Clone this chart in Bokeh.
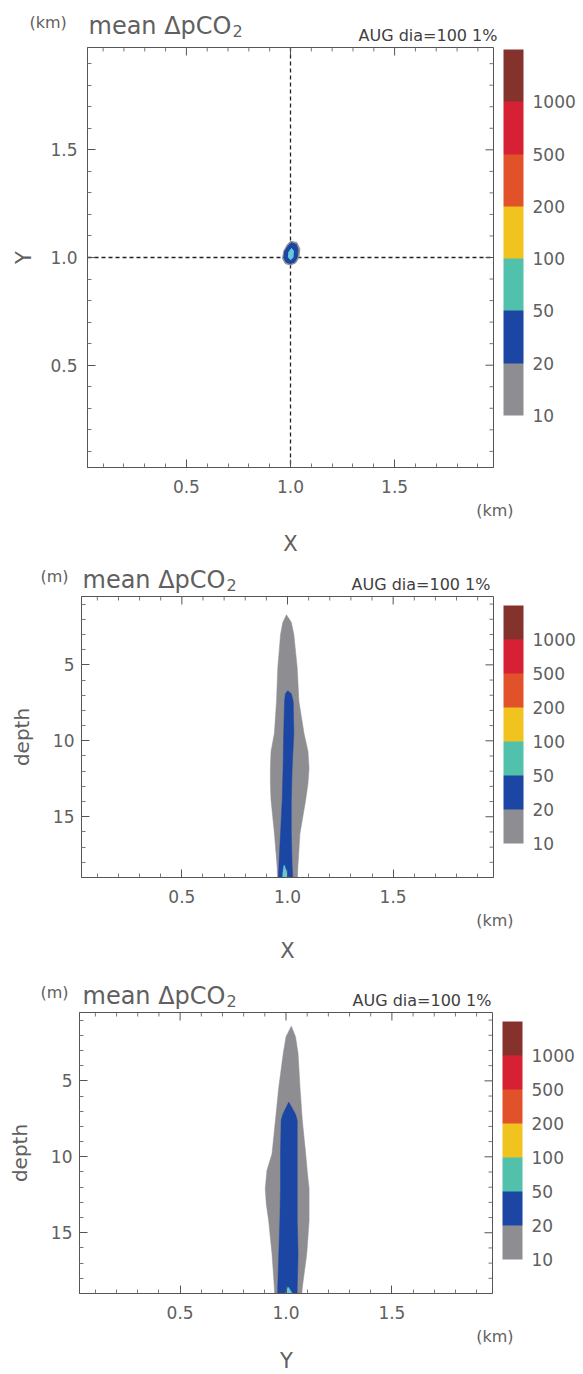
import numpy as np
from bokeh.plotting import figure
from bokeh.models import (Range1d, LinearAxis, FixedTicker, ColorBar, LinearColorMapper, Span)
from bokeh.core.properties import value
from bokeh.layouts import column
from bokeh.embed import file_html
from bokeh.resources import INLINE

# ---------------- data ----------------
level_values = [10, 20, 50, 100, 200, 500, 1000]
level_colors = ["#8e8e92", "#1c46a3", "#52c1ab", "#f1c31f", "#e2522a", "#d62034", "#86322c"]
spot_color = "#66c8dc"   # the small 50-100 patches look light cyan in the print

crosshair_x = 1.0
crosshair_y = 1.0

km_major_ticks = [0.5, 1.0, 1.5]
km_minor_ticks = [0.1, 0.2, 0.3, 0.4, 0.6, 0.7, 0.8, 0.9, 1.1, 1.2, 1.3, 1.4, 1.6, 1.7, 1.8, 1.9]
depth_major_ticks = [5, 10, 15]
depth_minor_ticks = [1, 2, 3, 4, 6, 7, 8, 9, 11, 12, 13, 14, 16, 17, 18]

# XY plan view (km): rings of the 10, 20 and 50 contours
xy_gray_x = [1.00, 1.03, 1.045, 1.04, 1.025, 1.00, 0.975, 0.962, 0.968, 0.985]
xy_gray_y = [1.075, 1.07, 1.04, 1.00, 0.975, 0.965, 0.972, 0.995, 1.03, 1.06]
xy_blue_x = [1.005, 1.028, 1.036, 1.032, 1.018, 0.998, 0.978, 0.968, 0.973, 0.99]
xy_blue_y = [1.068, 1.06, 1.035, 1.00, 0.978, 0.972, 0.98, 1.00, 1.03, 1.055]
xy_cyan_x = [1.005, 1.014, 1.012, 1.00, 0.99, 0.992]
xy_cyan_y = [1.042, 1.03, 1.00, 0.99, 1.00, 1.025]

# X-depth section: edges (km) of each contour at given depths (m)
xz_gray_depth = [1.7, 2.2, 3.0, 5.2, 7.4, 9.5, 10.7, 11.8, 12.8, 13.9, 16.1, 18.3, 19.5]
xz_gray_left = [0.995, 0.978, 0.967, 0.954, 0.948, 0.938, 0.922, 0.919, 0.919, 0.922, 0.938, 0.951, 0.954]
xz_gray_right = [0.995, 1.018, 1.03, 1.046, 1.054, 1.078, 1.097, 1.102, 1.097, 1.086, 1.059, 1.049, 1.046]
xz_blue_depth = [6.7, 6.9, 7.4, 9.5, 11.8, 13.9, 16.1, 18.3, 19.5]
xz_blue_left = [1.001, 0.99, 0.986, 0.982, 0.979, 0.975, 0.967, 0.959, 0.956]
xz_blue_right = [1.001, 1.018, 1.027, 1.03, 1.022, 1.018, 1.018, 1.022, 1.027]
xz_cyan_depth = [18.2, 18.7, 19.5]
xz_cyan_left = [0.983, 0.978, 0.976]
xz_cyan_right = [0.985, 0.998, 1.01]

# Y-depth section
yz_gray_depth = [1.4, 2.1, 3.2, 5.4, 7.6, 9.8, 10.9, 12.1, 13.1, 14.2, 16.4, 18.6, 19.5]
yz_gray_left = [1.025, 1.0, 0.987, 0.966, 0.95, 0.934, 0.91, 0.902, 0.907, 0.918, 0.934, 0.945, 0.947]
yz_gray_right = [1.025, 1.045, 1.057, 1.066, 1.077, 1.093, 1.10, 1.109, 1.109, 1.109, 1.098, 1.077, 1.072]
yz_blue_depth = [6.4, 7.2, 7.6, 9.8, 12.1, 14.2, 16.4, 18.6, 19.5]
yz_blue_left = [1.013, 0.985, 0.977, 0.974, 0.974, 0.971, 0.966, 0.961, 0.96]
yz_blue_right = [1.013, 1.045, 1.053, 1.053, 1.053, 1.053, 1.057, 1.053, 1.052]
yz_cyan_depth = [18.6, 19.0, 19.5]
yz_cyan_left = [1.008, 0.998, 0.995]
yz_cyan_right = [1.012, 1.03, 1.035]

km_range = (0.025, 1.975)
depth_range = (19.0, 0.5)

# ---------------- styling ----------------
FONT = "DejaVu Sans"
TXT = "#606060"
LINE = "#555555"
W = 583
TITLE = "mean ΔpCO"
TITLE_SUB = "2"
TITLE_SIZE = 24
# DejaVu Sans advance width of "mean ΔpCO" in em, used to place the subscript
TITLE_EM = 5.958


def no_align(p):
    try:
        p.frame_align = False
    except Exception:
        pass
    return p


def text_fig(height, items):
    """A strip of page that only holds texts; its frame is the whole strip (pixel coords)."""
    t = figure(width=W, height=height, x_range=Range1d(0, W), y_range=Range1d(height, 0),
               toolbar_location=None, output_backend="svg", x_axis_type=None, y_axis_type=None,
               min_border=0, outline_line_color=None)
    no_align(t)
    t.grid.visible = False
    for (x, y, s, size, align, color) in items:
        t.text(x=[x], y=[y], text=[s], text_font=value(FONT), text_font_size=value(size),
               text_color=color, text_align=align, text_baseline="middle")
    return t


def header(height, unit, ux, uy, tx, ty, ax, ay):
    return text_fig(height, [
        (ux, uy, unit, "16px", "left", TXT),
        (tx, ty, TITLE, f"{TITLE_SIZE}px", "left", TXT),
        (tx + TITLE_EM * TITLE_SIZE + 1, ty + 5, TITLE_SUB, "16px", "left", TXT),
        (ax, ay, "AUG dia=100 1%", "16px", "right", "#404040"),
    ])


def style_axis(ax, std):
    ax.axis_line_color = LINE
    ax.major_tick_in = 8
    ax.major_tick_out = 0
    ax.minor_tick_in = 4
    ax.minor_tick_out = 0
    ax.major_tick_line_color = LINE
    ax.minor_tick_line_color = "#777777"
    ax.major_label_text_font = FONT
    ax.major_label_text_color = TXT
    ax.major_label_text_font_size = "17px"
    ax.major_label_standoff = std
    ax.axis_label_text_font = FONT
    ax.axis_label_text_color = TXT
    ax.axis_label_text_font_style = "normal"


def main_fig(height, left, right, bottom, y_rng, y_major, y_minor, y_fmt, ylabel, ylab_size,
             ylab_std, y_std, bar_h, bar_y):
    p = figure(width=W, height=height, x_range=Range1d(*km_range), y_range=Range1d(*y_rng),
               toolbar_location=None, output_backend="svg",
               x_axis_type=None, y_axis_type=None,
               min_border_left=left, min_border_right=right,
               min_border_top=1, min_border_bottom=bottom)
    no_align(p)
    p.outline_line_color = LINE

    xb = LinearAxis(ticker=FixedTicker(ticks=km_major_ticks, minor_ticks=km_minor_ticks),
                    major_label_overrides={v: f"{v:.1f}" for v in km_major_ticks})
    style_axis(xb, 12)
    p.add_layout(xb, "below")

    yl = LinearAxis(ticker=FixedTicker(ticks=y_major, minor_ticks=y_minor), axis_label=ylabel,
                    major_label_overrides={v: y_fmt.format(v) for v in y_major})
    style_axis(yl, y_std)
    yl.axis_label_text_font_size = ylab_size
    yl.axis_label_standoff = ylab_std
    p.add_layout(yl, "left")

    # inward ticks on the top and right edges of the box, from the same tick lists
    x0, x1 = km_range
    y0, y1 = y_rng
    p.ray(x=km_major_ticks, y=[y1] * len(km_major_ticks), length=8, length_units="screen",
          angle=-90, angle_units="deg", line_color=LINE, line_width=1)
    p.ray(x=km_minor_ticks, y=[y1] * len(km_minor_ticks), length=4, length_units="screen",
          angle=-90, angle_units="deg", line_color="#777777", line_width=1)
    p.ray(x=[x1] * len(y_major), y=y_major, length=8, length_units="screen",
          angle=180, angle_units="deg", line_color=LINE, line_width=1)
    p.ray(x=[x1] * len(y_minor), y=y_minor, length=4, length_units="screen",
          angle=180, angle_units="deg", line_color="#777777", line_width=1)

    mapper = LinearColorMapper(palette=level_colors, low=0, high=len(level_values))
    cb = ColorBar(color_mapper=mapper, width=20, height=bar_h, location=(10, bar_y),
                  margin=0, padding=0,
                  ticker=FixedTicker(ticks=list(range(len(level_values)))),
                  major_label_overrides={i: str(v) for i, v in enumerate(level_values)},
                  major_label_text_font=FONT, major_label_text_font_size="17px",
                  major_label_text_color=TXT, label_standoff=9,
                  major_tick_line_color=None, bar_line_color=None,
                  border_line_color=None, background_fill_color=None)
    p.add_layout(cb, "right")
    return p


def section(p, depth, left, right, color):
    xs = list(left) + list(right)[::-1]
    ys = list(depth) + list(depth)[::-1]
    p.patch(xs, ys, fill_color=color, line_color=color, line_width=0.5)


def footer(height, ky, label, lx, ly):
    return text_fig(height, [(513, ky, "(km)", "16px", "right", TXT),
                             (lx, ly, label, "21px", "center", TXT)])


# ---------------- Panel 1: plan view ----------------
h1 = header(46, "(km)", 29, 22, 88, 25, 497, 35)
p1 = main_fig(453, 87, 90, 32, km_range, km_major_ticks, km_minor_ticks, "{:.1f}", "Y", "21px",
              11, 10, 366, 52)
p1.add_layout(Span(location=crosshair_x, dimension="height", line_color="#222222",
                   line_dash="4 3", line_width=1.3, level="underlay"))
p1.add_layout(Span(location=crosshair_y, dimension="width", line_color="#222222",
                   line_dash="4 3", line_width=1.3, level="underlay"))
p1.patch(xy_gray_x, xy_gray_y, fill_color=level_colors[0], line_color=level_colors[0])
p1.patch(xy_blue_x, xy_blue_y, fill_color=level_colors[1], line_color=level_colors[1])
p1.patch(xy_cyan_x, xy_cyan_y, fill_color=spot_color, line_color=spot_color)
f1 = footer(66, 11, "X", 290, 44)

# ---------------- Panel 2: X-depth ----------------
h2 = header(30, "(m)", 40, 11, 82, 14, 490, 19)
p2 = main_fig(314, 81, 90, 32, depth_range, depth_major_ticks, depth_minor_ticks, "{}", "depth",
              "20px", 16, 7, 238, 34)
section(p2, xz_gray_depth, xz_gray_left, xz_gray_right, level_colors[0])
section(p2, xz_blue_depth, xz_blue_left, xz_blue_right, level_colors[1])
section(p2, xz_cyan_depth, xz_cyan_left, xz_cyan_right, spot_color)
f2 = footer(61, 11, "X", 287, 41)

# ---------------- Panel 3: Y-depth ----------------
h3 = header(41, "(m)", 40, 22, 82, 25, 491, 30)
p3 = main_fig(314, 79, 91, 32, depth_range, depth_major_ticks, depth_minor_ticks, "{}", "depth",
              "20px", 16, 7, 238, 34)
section(p3, yz_gray_depth, yz_gray_left, yz_gray_right, level_colors[0])
section(p3, yz_blue_depth, yz_blue_left, yz_blue_right, level_colors[1])
section(p3, yz_cyan_depth, yz_cyan_left, yz_cyan_right, spot_color)
f3 = footer(49, 11, "Y", 286, 35)

layout = column(h1, p1, f1, h2, p2, f2, h3, p3, f3, spacing=0)
open("out.html", "w").write(file_html(layout, INLINE))
